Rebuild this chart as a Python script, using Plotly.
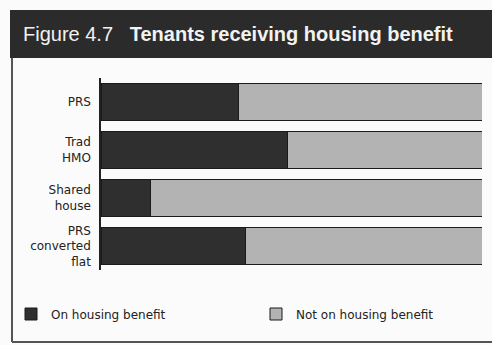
import plotly.graph_objects as go

# Share of tenants (%) in each tenure type, by housing-benefit status
tenure_types = ["PRS", "Trad<br>HMO", "Shared<br>house", "PRS<br>converted<br>flat"]
on_benefit = [36, 49, 13, 38]
not_on_benefit = [100 - v for v in on_benefit]

W, H = 492, 345
M_L, M_R, M_T, M_B = 101, 10, 78, 75
PW, PH = W - M_L - M_R, H - M_T - M_B

BODY_FONT = "DejaVu Sans, Arial, sans-serif"
TITLE_FONT = "Liberation Sans, Arial, sans-serif"


def px_x(px):
    return (px - M_L) / PW


def px_y(py):
    return (H - M_B - py) / PH


fig = go.Figure()
fig.add_trace(go.Bar(
    y=tenure_types, x=on_benefit, orientation="h", name="On housing benefit",
    marker=dict(color="#2f2f2f", line=dict(color="#1a1a1a", width=1)),
    legend="legend",
))
fig.add_trace(go.Bar(
    y=tenure_types, x=not_on_benefit, orientation="h", name="Not on housing benefit",
    marker=dict(color="#b3b3b3", line=dict(color="#1a1a1a", width=1)),
    legend="legend2",
))

shapes = [
    # dark title banner
    dict(type="rect", xref="paper", yref="paper",
         x0=px_x(10), x1=px_x(W + 2), y0=px_y(58), y1=px_y(10),
         fillcolor="#2b2b2b", line=dict(width=0), layer="above"),
    # frame: left edge and bottom edge
    dict(type="line", xref="paper", yref="paper",
         x0=px_x(12), x1=px_x(12), y0=px_y(58), y1=px_y(342),
         line=dict(color="#555555", width=2)),
    dict(type="line", xref="paper", yref="paper",
         x0=px_x(12), x1=px_x(W + 2), y0=px_y(342), y1=px_y(342),
         line=dict(color="#555555", width=2)),
]

legend_style = dict(
    orientation="h", xanchor="left", yanchor="middle", y=px_y(314),
    bgcolor="rgba(0,0,0,0)", font=dict(family=BODY_FONT, size=12, color="#222222"),
)

fig.update_layout(
    width=W, height=H,
    margin=dict(l=M_L, r=M_R, t=M_T, b=M_B),
    barmode="stack", bargap=0.23,
    paper_bgcolor="#fbfbfb", plot_bgcolor="#fbfbfb",
    font=dict(family=BODY_FONT, size=12, color="#222222"),
    xaxis=dict(range=[0, 100], visible=False, fixedrange=True),
    yaxis=dict(autorange="reversed", showline=True, linecolor="#222222", linewidth=1.5,
               ticks="", ticklabelstandoff=6, showgrid=False, zeroline=False,
               tickfont=dict(family=BODY_FONT, size=12, color="#222222")),
    shapes=shapes,
    annotations=[dict(
        xref="paper", yref="paper", x=px_x(21), y=px_y(34),
        xanchor="left", yanchor="middle", showarrow=False,
        text="Figure 4.7&nbsp;&nbsp;&nbsp;<b>Tenants receiving housing benefit</b>",
        font=dict(size=20, color="#f2f2f2", family=TITLE_FONT),
    )],
    legend=dict(legend_style, x=px_x(11)),
    legend2=dict(legend_style, x=px_x(256)),
    showlegend=True,
)

fig.write_html("out.html")
